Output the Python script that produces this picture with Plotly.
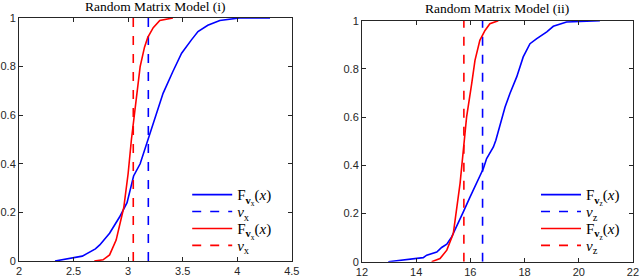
import plotly.graph_objects as go

# Left panel: Random Matrix Model (i)
l_blue_x = [2.33, 2.47, 2.54, 2.58, 2.70, 2.74, 2.83, 2.92, 2.99, 3.05, 3.11, 3.18, 3.23, 3.32, 3.41, 3.49, 3.58, 3.64, 3.73, 3.84, 4.02, 4.30]
l_blue_y = [0.0, 0.01, 0.018, 0.02, 0.05, 0.066, 0.114, 0.18, 0.24, 0.35, 0.40, 0.50, 0.567, 0.69, 0.78, 0.855, 0.91, 0.944, 0.97, 0.99, 1.0, 1.0]
l_red_x = [2.69, 2.77, 2.83, 2.89, 2.96, 3.00, 3.03, 3.05, 3.08, 3.11, 3.15, 3.18, 3.23, 3.29, 3.41]
l_red_y = [0.0, 0.005, 0.025, 0.086, 0.22, 0.36, 0.50, 0.58, 0.70, 0.80, 0.88, 0.92, 0.96, 0.99, 1.0]
l_blue_v = 3.185
l_red_v = 3.047

# Right panel: Random Matrix Model (ii)
r_blue_x = [12.97, 13.9, 14.26, 14.39, 14.76, 14.94, 15.13, 15.31, 15.49, 15.74, 15.99, 16.23, 16.48, 16.6, 16.85, 16.94, 17.15, 17.28, 17.46, 17.71, 17.95, 18.2, 18.45, 18.82, 19.06, 19.55, 20.78]
r_blue_y = [0.0, 0.013, 0.017, 0.027, 0.04, 0.059, 0.073, 0.103, 0.144, 0.207, 0.269, 0.324, 0.387, 0.428, 0.476, 0.504, 0.587, 0.642, 0.698, 0.767, 0.85, 0.905, 0.926, 0.954, 0.977, 0.995, 1.0]
r_red_x = [14.57, 14.88, 15.13, 15.37, 15.62, 15.76, 15.86, 16.05, 16.17, 16.35, 16.54, 16.72, 17.03]
r_red_y = [0.0, 0.013, 0.048, 0.117, 0.325, 0.504, 0.60, 0.74, 0.836, 0.919, 0.96, 0.988, 1.0]
r_blue_v = 16.45
r_red_v = 15.76

titles = ["Random Matrix Model (i)", "Random Matrix Model (ii)"]
l_names = ["F<sub><b>v</b><sub>x</sub></sub>(<i>x</i>)", "<i>v</i><sub>x</sub>"]
r_names = ["F<sub><b>v</b><sub>z</sub></sub>(<i>x</i>)", "<i>v</i><sub>z</sub>"]

BLUE = "#0000ff"
RED = "#ff0000"
LW = 1.6

fig = go.Figure()

def add_panel(xa, ya, legs, bx, by, rx, ry, bv, rv, names):
    fig.add_trace(go.Scatter(x=bx, y=by, mode="lines", line=dict(color=BLUE, width=LW),
                             name=names[0], xaxis=xa, yaxis=ya, legend=legs[0]))
    fig.add_trace(go.Scatter(x=[bv, bv], y=[0, 1], mode="lines", line=dict(color=BLUE, width=LW, dash="dash"),
                             name=names[1], xaxis=xa, yaxis=ya, legend=legs[1]))
    fig.add_trace(go.Scatter(x=rx, y=ry, mode="lines", line=dict(color=RED, width=LW),
                             name=names[0], xaxis=xa, yaxis=ya, legend=legs[2]))
    fig.add_trace(go.Scatter(x=[rv, rv], y=[0, 1], mode="lines", line=dict(color=RED, width=LW, dash="dash"),
                             name=names[1], xaxis=xa, yaxis=ya, legend=legs[3]))

add_panel("x", "y", ["legend", "legend2", "legend3", "legend4"],
          l_blue_x, l_blue_y, l_red_x, l_red_y, l_blue_v, l_red_v, l_names)
add_panel("x2", "y2", ["legend5", "legend6", "legend7", "legend8"],
          r_blue_x, r_blue_y, r_red_x, r_red_y, r_blue_v, r_red_v, r_names)

axis_common = dict(showline=True, linecolor="#262626", linewidth=1, mirror="ticks",
                   ticks="inside", ticklen=4, tickcolor="#262626", showgrid=False, zeroline=False,
                   automargin=False,
                   tickfont=dict(family="Liberation Sans", size=11, color="#262626"))

legend_font = dict(family="Liberation Serif", size=15, color="#000")
leg_tops = [0.356, 0.295, 0.234, 0.173]

def leg(x, y):
    return dict(x=x, y=y, xanchor="left", yanchor="top", bgcolor="rgba(0,0,0,0)",
                font=legend_font, tracegroupgap=0, itemwidth=40)

legends = {}
for i, y in enumerate(leg_tops):
    legends["legend" if i == 0 else f"legend{i + 1}"] = leg(0.2925, y)
    legends[f"legend{i + 5}"] = leg(0.8375, y)

fig.update_layout(
    width=640, height=277,
    margin=dict(l=0, r=0, t=0, b=0),
    paper_bgcolor="white", plot_bgcolor="white",
    xaxis=dict(domain=[0.0297, 0.456], range=[2, 4.5], tickvals=[2, 2.5, 3, 3.5, 4, 4.5],
               ticktext=["2", "2.5", "3", "3.5", "4", "4.5"], anchor="y", **axis_common),
    yaxis=dict(domain=[0.0578, 0.935], range=[0, 1], tickvals=[0, 0.2, 0.4, 0.6, 0.8, 1],
               ticktext=["0", "0.2", "0.4", "0.6", "0.8", "1"], anchor="x", **axis_common),
    xaxis2=dict(domain=[0.5656, 0.989], range=[12, 22], tickvals=[12, 14, 16, 18, 20, 22],
                ticktext=["12", "14", "16", "18", "20", "22"], anchor="y2", **axis_common),
    yaxis2=dict(domain=[0.0552, 0.925], range=[0, 1], tickvals=[0, 0.2, 0.4, 0.6, 0.8, 1],
                ticktext=["0", "0.2", "0.4", "0.6", "0.8", "1"], anchor="x2", **axis_common),
    showlegend=True,
    annotations=[
        dict(text=titles[0], x=0.243, y=1.012, xref="paper", yref="paper", xanchor="center", yanchor="top",
             showarrow=False, font=dict(family="Liberation Serif", size=13.5, color="#000")),
        dict(text=titles[1], x=0.777, y=1.005, xref="paper", yref="paper", xanchor="center", yanchor="top",
             showarrow=False, font=dict(family="Liberation Serif", size=13.5, color="#000")),
    ],
    **legends,
)

fig.write_html("out.html", config={"displayModeBar": False},
               post_script="document.body.style.margin='0';document.body.style.overflow='hidden';")
